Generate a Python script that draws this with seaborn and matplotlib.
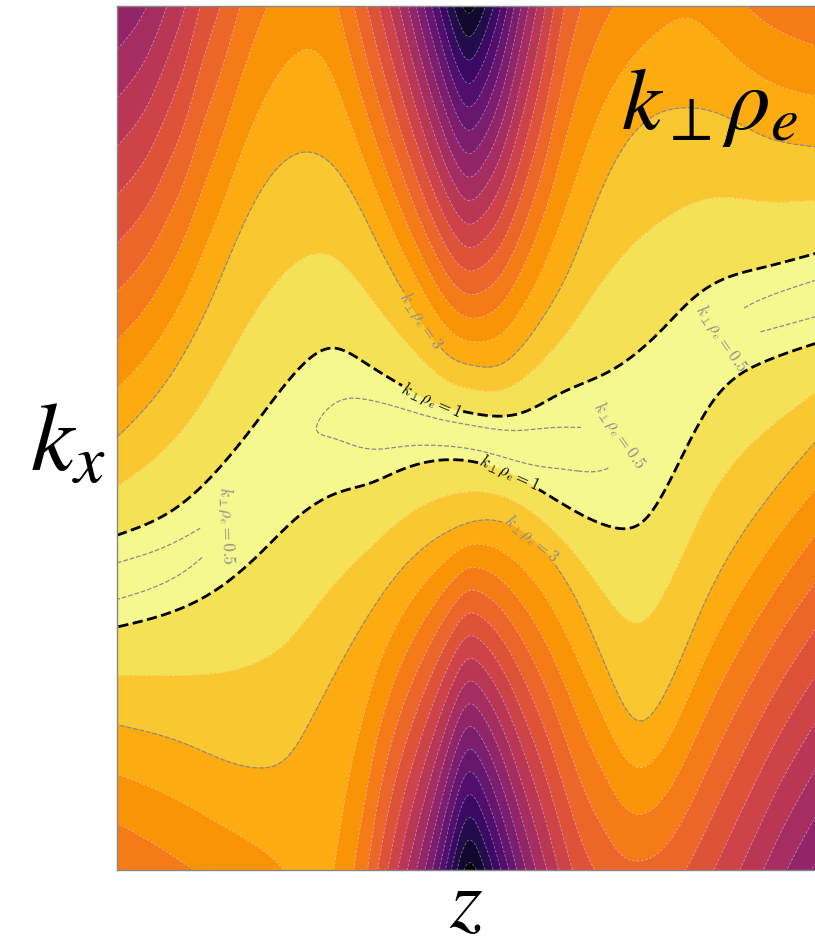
import numpy as np
import matplotlib
matplotlib.use("Agg")
import matplotlib.pyplot as plt
import seaborn as sns

# ---------------- data ----------------
# z in units of pi (-1 .. 1), k_x normalised (-1 .. 1)
# minimum of k_perp rho_e along the valley
ridge_z = [-1.000, -0.828, -0.705, -0.590, -0.476, -0.361, -0.246, -0.132, 0.003,
           0.126, 0.241, 0.384, 0.527, 0.670, 0.842, 1.000]
ridge_min = [0.33, 0.39, 0.48, 0.56, 0.53, 0.43, 0.27, 0.22, 0.10,
             0.12, 0.32, 0.43, 0.58, 0.55, 0.39, 0.32]

# k_perp rho_e = 1 contour, upper branch
lev1_up_z = [-1.000, -0.828, -0.705, -0.590, -0.476, -0.390, -0.295, -0.189, -0.074,
             0.011, 0.155, 0.269, 0.413, 0.556, 0.650, 0.728, 0.842, 1.000]
lev1_up_kx = [-0.225, -0.160, -0.067, 0.049, 0.164, 0.208, 0.176, 0.123, 0.076,
              0.058, 0.058, 0.104, 0.157, 0.250, 0.326, 0.366, 0.394, 0.428]
# k_perp rho_e = 1 contour, lower branch
lev1_lo_z = [-1.000, -0.828, -0.705, -0.590, -0.484, -0.370, -0.275, -0.189, -0.017,
             0.097, 0.241, 0.413, 0.507, 0.605, 0.699, 0.842, 1.000]
lev1_lo_kx = [-0.4375, -0.398, -0.345, -0.266, -0.183, -0.127, -0.104, -0.074, -0.051,
              -0.074, -0.137, -0.206, -0.190, -0.058, 0.081, 0.174, 0.220]
# k_perp rho_e = 3 contour, upper branch
lev3_up_z = [-1.000, -0.877, -0.734, -0.619, -0.533, -0.456, -0.361, -0.246, -0.132,
             -0.046, 0.011, 0.097, 0.212, 0.298, 0.384, 0.499, 0.613, 0.728, 0.842, 1.000]
lev3_up_kx = [0.002, 0.111, 0.315, 0.528, 0.632, 0.662, 0.609, 0.435, 0.273,
              0.187, 0.169, 0.171, 0.273, 0.400, 0.574, 0.725, 0.764, 0.748, 0.701, 0.674]
# k_perp rho_e = 3 contour, lower branch
lev3_lo_z = [-1.000, -0.811, -0.590, -0.513, -0.427, -0.324, -0.189, -0.046, 0.069,
             0.212, 0.327, 0.413, 0.484, 0.556, 0.670, 0.814, 1.000]
lev3_lo_kx = [-0.664, -0.706, -0.764, -0.738, -0.623, -0.468, -0.306, -0.213, -0.190,
              -0.255, -0.398, -0.560, -0.653, -0.606, -0.398, -0.190, -0.005]
# value of k_perp rho_e along the top edge (k_x = 1)
top_z = [-1.000, -0.914, -0.857, -0.805, -0.762, -0.705, -0.648, -0.570, -0.476, -0.370,
         -0.304, -0.246, -0.189, -0.132, -0.074, -0.032, 0.003, 0.040, 0.097, 0.155,
         0.212, 0.269, 0.327, 0.421, 0.527, 0.642, 0.799, 1.000]
top_val = [11.9, 11.0, 10.0, 9.0, 8.0, 7.0, 6.0, 5.0, 4.45, 5.0,
           6.5, 8.2, 10.2, 12.6, 15.3, 17.3, 18.3, 17.5, 15.0, 12.0,
           9.5, 7.3, 6.0, 5.0, 4.4, 4.15, 5.0, 5.8]
# value of k_perp rho_e along the bottom edge (k_x = -1)
bot_z = [-1.000, -0.782, -0.524, -0.447, -0.381, -0.324, -0.284, -0.255, -0.226, -0.198,
         -0.132, -0.074, -0.032, 0.003, 0.040, 0.097, 0.155, 0.212, 0.269, 0.327,
         0.384, 0.441, 0.499, 0.556, 0.642, 0.728, 0.814, 0.900, 1.000]
bot_val = [5.95, 5.0, 4.0, 3.75, 4.0, 5.0, 6.0, 7.0, 8.0, 9.0,
           11.5, 14.3, 16.8, 18.3, 17.5, 15.0, 12.5, 10.5, 8.8, 7.5,
           6.8, 6.3, 6.2, 6.4, 7.2, 8.3, 9.5, 10.8, 12.2]

fill_levels = list(range(0, 20))
labelled_levels = [0.5, 1, 3]


# ---------------- build the field from the readings ----------------
def nat_spline(xk, yk, x):
    xk = np.asarray(xk, float); yk = np.asarray(yk, float)
    n = len(xk); h = np.diff(xk)
    A = np.zeros((n, n)); r = np.zeros(n)
    A[0, 0] = A[-1, -1] = 1.0
    for i in range(1, n - 1):
        A[i, i - 1] = h[i - 1]; A[i, i] = 2 * (h[i - 1] + h[i]); A[i, i + 1] = h[i]
        r[i] = 6 * ((yk[i + 1] - yk[i]) / h[i] - (yk[i] - yk[i - 1]) / h[i - 1])
    M = np.linalg.solve(A, r)
    i = np.clip(np.searchsorted(xk, x) - 1, 0, n - 2)
    t0 = xk[i + 1] - x; t1 = x - xk[i]; hi = h[i]
    return ((M[i] * t0 ** 3 + M[i + 1] * t1 ** 3) / (6 * hi)
            + (yk[i] / hi - M[i] * hi / 6) * t0 + (yk[i + 1] / hi - M[i + 1] * hi / 6) * t1)


zn = np.linspace(-1, 1, 800)
kx = np.linspace(-1, 1, 800)
m = np.clip(nat_spline(ridge_z, ridge_min, zn), 0.02, 0.95)
y1u = nat_spline(lev1_up_z, lev1_up_kx, zn)
y1l = nat_spline(lev1_lo_z, lev1_lo_kx, zn)
y3u = nat_spline(lev3_up_z, lev3_up_kx, zn)
y3l = nat_spline(lev3_lo_z, lev3_lo_kx, zn)
vt = nat_spline(top_z, top_val, zn)
vb = nat_spline(bot_z, bot_val, zn)
c = 0.5 * (y1u + y1l)

K = kx[:, None] * np.ones_like(zn)[None, :]
up = K >= c
# upper half
d = (K - c) / (y1u - c)
core = np.sqrt(m ** 2 + (1 - m ** 2) * d ** 2)
mid = 1 + 2 * (K - y1u) / (y3u - y1u)
out = 3 + (vt - 3) * (K - y3u) / (1 - y3u)
Fu = np.where(K <= y1u, core, np.where(K <= y3u, mid, out))
# lower half
d = (c - K) / (c - y1l)
core = np.sqrt(m ** 2 + (1 - m ** 2) * d ** 2)
mid = 1 + 2 * (y1l - K) / (y1l - y3l)
out = 3 + (vb - 3) * (y3l - K) / (y3l + 1)
Fl = np.where(K >= y1l, core, np.where(K >= y3l, mid, out))
F = np.where(up, Fu, Fl)
F = np.clip(F, 0, 18.99)

Z = np.pi * zn

# ---------------- plot ----------------
sns.set_theme(style="white")
plt.rcParams["mathtext.fontset"] = "stix"
plt.rcParams["text.color"] = "black"
cmap = sns.color_palette("inferno_r", as_cmap=True)

fig = plt.figure(figsize=(8.15, 9.44), dpi=100)
ax = fig.add_axes([117 / 815, 74 / 944, 700 / 815, 864 / 944])

ax.contourf(Z, kx, F, levels=fill_levels, cmap=cmap)
ax.contour(Z, kx, F, levels=[l for l in fill_levels[1:] if l not in (1, 3)],
           colors="white", linewidths=0.6, linestyles="--", alpha=0.4)
cs05 = ax.contour(Z, kx, F, levels=[0.5], colors="#8c8c8c", linewidths=0.9, linestyles="--")
cs3 = ax.contour(Z, kx, F, levels=[3], colors="#8c8c8c", linewidths=0.9, linestyles="--")
cs1 = ax.contour(Z, kx, F, levels=[1], colors="black", linewidths=2.0, linestyles="--")

lab_kw = dict(inline=True, fontsize=12, inline_spacing=4)
t1 = ax.clabel(cs1, fmt={1: r"$k_\perp\rho_e=1$"}, colors="black",
               manual=[(-0.306, 0.093), (0.396, -0.074)], **lab_kw)
t05 = ax.clabel(cs05, fmt={0.5: r"$k_\perp\rho_e=0.5$"}, colors="#8c8c8c",
                manual=[(-2.143, -0.206), (1.414, 0.0185), (2.169, 0.204)], **lab_kw)
t3 = ax.clabel(cs3, fmt={3: r"$k_\perp\rho_e=3$"}, colors="#8c8c8c",
               manual=[(-0.441, 0.266), (0.504, -0.255)], **lab_kw)
for t in list(t1) + list(t05) + list(t3):
    t.set_math_fontfamily("cm")

ax.set_xlim(-np.pi, np.pi)
ax.set_ylim(-1, 1)
ax.set_xticks([]); ax.set_yticks([])
for s in ax.spines.values():
    s.set_color("#888888"); s.set_linewidth(1.0)

ax.text(0.847, 0.885, r"$k_\perp\rho_e$", transform=ax.transAxes, fontsize=64,
        ha="center", va="center", color="black")
fig.text(68 / 815, 1 - 445 / 944, r"$k_x$", fontsize=70, ha="center", va="center",
         color="black")
fig.text(466 / 815, 1 - 903 / 944, r"$z$", fontsize=60, ha="center", va="center",
         color="black")

fig.savefig("out.png", dpi=100)
